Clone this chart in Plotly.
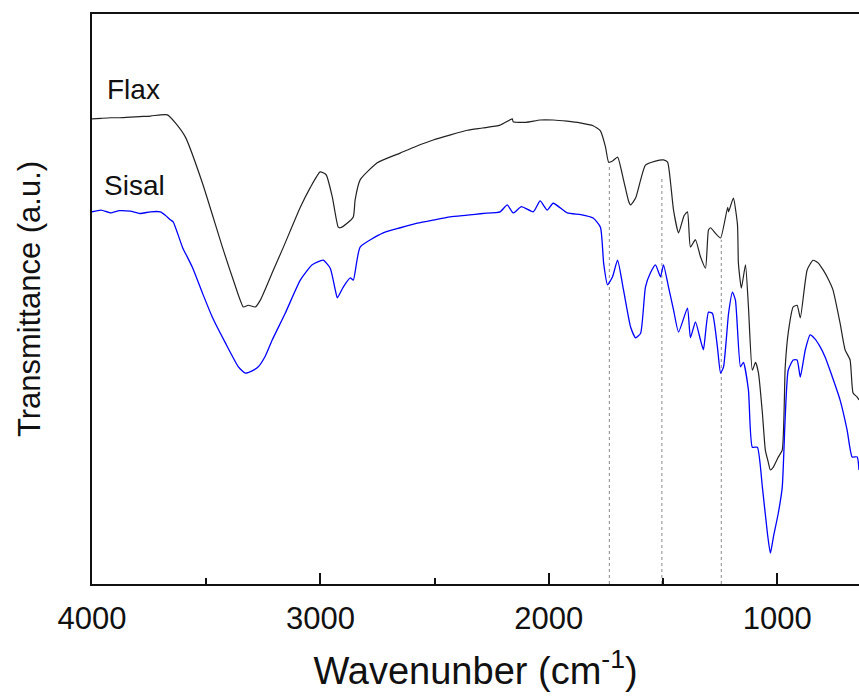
import plotly.graph_objects as go

# Wavenumber (cm-1) and transmittance (a.u.)
flax_wn = [4000, 3960, 3919, 3880, 3832, 3790, 3744, 3701, 3670, 3635, 3591, 3517, 3429, 3381, 3337,
           3316, 3285, 3263, 3211, 3162, 3088, 3045, 3001, 2975, 2948, 2922, 2913, 2883, 2856, 2848,
           2826, 2751, 2651, 2580, 2506, 2430, 2357, 2290, 2213, 2160, 2156, 2100, 2038, 1981, 1920,
           1863, 1806, 1774, 1752, 1738, 1721, 1699, 1673, 1651, 1642, 1620, 1598, 1577, 1533, 1498,
           1480, 1467, 1454, 1432, 1408, 1393, 1380, 1358, 1336, 1314, 1301, 1292, 1270, 1248, 1217,
           1213, 1192, 1174, 1170, 1157, 1139, 1126, 1109, 1095, 1082, 1065, 1052, 1040, 1030, 1017,
           995, 978, 965, 952, 930, 913, 899, 869, 843, 820, 799, 778, 756, 725, 703, 681, 668, 650, 642]
flax_t = [81.6, 81.7, 81.8, 81.8, 81.9, 82.0, 82.1, 82.3, 82.3, 80.9, 78.4, 70.4, 59.1, 53.3, 48.6,
          48.9, 48.6, 49.8, 54.6, 59.1, 66.1, 69.5, 72.3, 71.8, 67.9, 62.6, 62.5, 63.3, 64.4, 67.4,
          70.9, 73.9, 75.6, 76.8, 77.9, 78.8, 79.6, 80.0, 80.5, 81.6, 81.1, 81.0, 81.4, 81.4, 81.2,
          80.9, 80.4, 79.5, 76.7, 74.0, 74.2, 74.9, 70.9, 67.2, 66.5, 67.7, 70.9, 73.5, 74.2, 74.4,
          74.0, 70.4, 65.6, 61.6, 64.6, 65.3, 59.1, 60.4, 57.4, 55.4, 62.1, 62.5, 61.5, 60.7, 66.1,
          65.3, 67.7, 63.0, 56.3, 51.9, 56.0, 48.6, 37.5, 38.9, 37.0, 30.0, 23.5, 21.5, 20.0, 20.5,
          22.3, 23.5, 38.1, 44.0, 48.6, 48.9, 46.7, 55.1, 56.8, 56.3, 55.1, 53.6, 51.6, 45.8, 41.1,
          39.3, 33.5, 32.8, 32.3]

sisal_wn = [4000, 3960, 3919, 3880, 3832, 3790, 3744, 3701, 3679, 3657, 3644, 3604, 3561, 3517, 3473,
            3416, 3359, 3329, 3299, 3272, 3241, 3211, 3154, 3088, 3036, 2988, 2957, 2935, 2926, 2900,
            2869, 2856, 2826, 2725, 2650, 2576, 2500, 2432, 2357, 2290, 2213, 2182, 2156, 2120, 2068,
            2038, 2007, 1981, 1919, 1860, 1806, 1774, 1760, 1743, 1721, 1699, 1673, 1642, 1620, 1598,
            1577, 1555, 1533, 1511, 1498, 1476, 1454, 1432, 1393, 1380, 1358, 1336, 1323, 1301, 1284,
            1262, 1248, 1235, 1213, 1196, 1183, 1161, 1148, 1126, 1109, 1087, 1065, 1043, 1030, 1017,
            995, 978, 965, 952, 930, 913, 899, 877, 856, 835, 812, 790, 769, 725, 694, 672, 650, 642]
sisal_t = [65.3, 65.6, 65.1, 65.5, 65.4, 65.0, 65.3, 65.3, 64.7, 63.9, 63.5, 59.1, 55.6, 51.1, 46.8,
           42.3, 38.1, 37.0, 37.4, 38.1, 40.0, 42.8, 47.5, 53.3, 56.0, 56.8, 55.4, 51.6, 50.2, 52.1,
           53.7, 53.3, 59.1, 61.6, 62.5, 63.3, 63.9, 64.4, 64.7, 65.0, 65.3, 66.5, 65.1, 66.2, 65.3,
           67.2, 65.6, 66.8, 65.1, 64.8, 64.2, 62.6, 56.3, 52.5, 53.9, 56.8, 51.6, 45.1, 43.2, 44.0,
           52.1, 54.6, 56.0, 53.9, 56.0, 52.1, 48.1, 44.2, 48.4, 43.2, 46.0, 42.8, 41.1, 47.7, 47.5,
           41.6, 37.0, 38.1, 47.5, 51.2, 49.8, 38.1, 38.9, 34.0, 24.0, 24.0, 17.0, 8.9, 5.4, 8.2,
           12.5, 17.0, 29.3, 37.5, 39.3, 39.3, 36.3, 41.1, 43.7, 43.0, 41.6, 39.8, 37.5, 32.3, 27.0,
           22.3, 22.3, 20.0]

# Marker lines (cm-1) and their upper ends (a.u.)
mark_wn = [1735, 1505, 1245]
mark_top = [73.5, 71.2, 60.4]

x_ticks = [4000, 3000, 2000, 1000]

FONT = "Liberation Sans, Arial, sans-serif"

fig = go.Figure()
for wn, top in zip(mark_wn, mark_top):
    fig.add_trace(go.Scatter(x=[wn, wn], y=[0, top], mode="lines",
                             line=dict(color="#8a8a8a", width=1, dash="dot"),
                             hoverinfo="skip", showlegend=False))
fig.add_trace(go.Scatter(x=flax_wn, y=flax_t, mode="lines", name="Flax",
                         line=dict(color="#222222", width=1.2, shape="spline", smoothing=0.5),
                         showlegend=False))
fig.add_trace(go.Scatter(x=sisal_wn, y=sisal_t, mode="lines", name="Sisal",
                         line=dict(color="#0000ff", width=1.3, shape="spline", smoothing=0.5),
                         showlegend=False))

fig.add_annotation(x=0.017, xref="paper", y=86.8, yref="y", text="Flax", showarrow=False,
                   xanchor="left", yanchor="middle", font=dict(family=FONT, size=28, color="#111111"))
fig.add_annotation(x=0.013, xref="paper", y=70.0, yref="y", text="Sisal", showarrow=False,
                   xanchor="left", yanchor="middle", font=dict(family=FONT, size=28, color="#111111"))

fig.update_layout(
    width=859, height=700,
    margin=dict(l=92, r=0, t=14, b=116),
    paper_bgcolor="white", plot_bgcolor="white",
    font=dict(family=FONT, color="#111111"),
)
fig.update_xaxes(
    range=[4000, 642], tickvals=x_ticks, ticktext=[str(v) for v in x_ticks],
    ticks="inside", ticklen=11, tickwidth=2, tickcolor="#111111",
    minor=dict(dtick=500, ticks="inside", ticklen=6, tickwidth=1.5, tickcolor="#111111"),
    showline=True, linecolor="#111111", linewidth=2, mirror=True,
    showgrid=False, zeroline=False, automargin=False,
    tickfont=dict(family=FONT, size=31), ticklabelstandoff=6,
    title=dict(text="Wavenunber (cm<sup>-1</sup>)", font=dict(family=FONT, size=38), standoff=22),
)
fig.update_yaxes(
    range=[0, 100], showticklabels=False, ticks="",
    showline=True, linecolor="#111111", linewidth=2, mirror=False,
    showgrid=False, zeroline=False, automargin=False,
    title=dict(text="Transmittance (a.u.)", font=dict(family=FONT, size=31), standoff=40),
)

fig.write_html("out.html", config={"displayModeBar": False},
               post_script="document.body.style.margin='0';document.body.style.overflow='hidden';")
